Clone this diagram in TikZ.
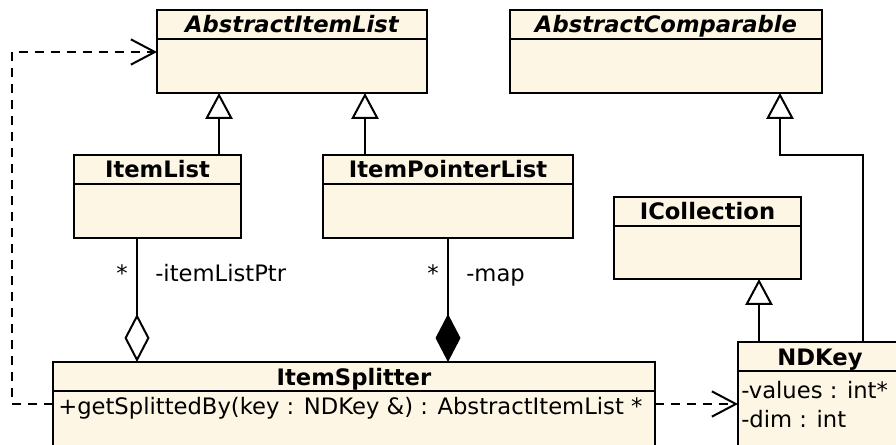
\documentclass[tikz,border=0pt]{standalone}
\usepackage{fontspec}
\setmainfont{DejaVu Sans}
\usetikzlibrary{arrows.meta,calc}
\definecolor{umlfill}{RGB}{253,246,228}
\newcommand\umlfont{\fontsize{17}{20}\selectfont}
\tikzset{
	classbox/.style={draw=black,fill=umlfill,line width=1.5pt,inner sep=0pt,outer sep=0pt},
	classname/.style={font=\umlfont\bfseries,anchor=base,inner sep=0pt},
	member/.style={anchor=base west,inner sep=0pt},
	rolename/.style={anchor=base west,inner sep=0pt},
	multi/.style={anchor=base,inner sep=0pt},
	inherit/.style={line width=1.5pt,-{Triangle[open,fill=white,width=20.5pt,length=19.5pt]}},
	aggr/.style={line width=1.5pt,{Diamond[open,fill=white,width=18.75pt,length=36pt]}-},
	compos/.style={line width=1.5pt,{Diamond[fill=black,width=18.75pt,length=36pt]}-},
	depend/.style={line width=1.5pt,dash pattern=on 6.75pt off 5.25pt,-{Straight Barb[length=18pt,width=19pt,line join=miter]}}
}
% name, left, top, width, height, title
\newcommand\umlclass[6]{%
	\node[classbox,anchor=north west,minimum width=#4*0.75pt,minimum height=#5*0.75pt] (#1) at (#2,#3) {};
	\draw[line width=1.5pt] ($(#1.north west)+(0,29)$) -- ++(#4,0);
	\node[classname] (#1-title) at ($(#1.north)+(0,23)$) {#6};}
\begin{document}
\begin{tikzpicture}[x=0.75pt,y=-0.75pt,font=\umlfont]
			\useasboundingbox (0,0) rectangle (896,445);
			\clip (0,0) rectangle (896,445);
			\umlclass{abslist}{157}{10}{270}{83}{\itshape AbstractItemList}
			\umlclass{abscmp}{510}{10}{312}{83}{\itshape AbstractComparable}
			\umlclass{itemlist}{74}{155}{167}{83}{ItemList}
			\umlclass{ptrlist}{323}{155}{250}{83}{ItemPointerList}
			\umlclass{icoll}{614}{197}{187}{82}{ICollection}
			\umlclass{splitter}{53}{362}{602}{110}{ItemSplitter}
			\umlclass{ndkey}{738}{342}{164}{130}{NDKey}
			\node[member] (split-op) at ($(splitter.north west)+(5,52)$) {+getSplittedBy(key : NDKey \&) : AbstractItemList *};
			\node[member] (nd-values) at ($(ndkey.north west)+(3,56)$) {-values : int*};
			\node[member] (nd-dim) at ($(ndkey.north west)+(3,85)$) {-dim : int};
			%===========================================
			\foreach \n/\px in {itemlist/219,ptrlist/365}
				\draw[inherit] (\n.north -| \px,0) -- (abslist.south -| \px,0);
			\draw[inherit] (ndkey.north -| 759,0) -- (icoll.south -| 759,0);
			\draw[inherit] (ndkey.north -| 863,0) -- ++(0,-187) -| (abscmp.south -| 780,0);
			\draw[aggr] (splitter.north -| 137,0) -- (itemlist.south -| 137,0);
			\draw[compos] (splitter.north -| 448,0) -- (ptrlist.south -| 448,0);
			\foreach \px/\role in {137/-itemListPtr,448/-map}{
				\node[multi] at (\px-15,282) {*};
				\node[rolename] at (\px+18,282) {\role};}
			%===========================================
			\draw[depend] (splitter.west |- 0,404) -- ++(-41,0) |- (abslist.west |- 0,52);
			\draw[depend] (splitter.east |- 0,404) -- (ndkey.west |- 0,404);
\end{tikzpicture}
\end{document}
